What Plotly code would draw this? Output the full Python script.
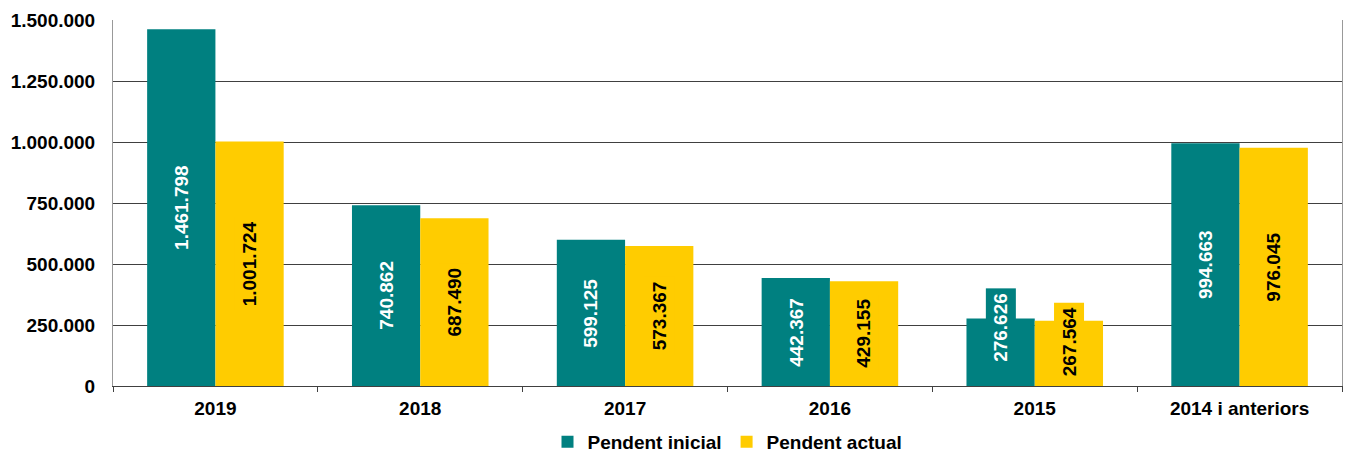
import plotly.graph_objects as go

categories = ["2019", "2018", "2017", "2016", "2015", "2014 i anteriors"]
pendent_inicial = [1461798, 740862, 599125, 442367, 276626, 994663]
pendent_actual = [1001724, 687490, 573367, 429155, 267564, 976045]
series_names = ["Pendent inicial", "Pendent actual"]
y_ticks = [0, 250000, 500000, 750000, 1000000, 1250000, 1500000]

TEAL = "#008080"
GOLD = "#FFCC00"
FONT = "Liberation Sans, Arial, sans-serif"
FS = 19


def fmt(v):
    return f"{v:,}".replace(",", ".")


fig = go.Figure()
fig.add_bar(x=categories, y=pendent_inicial, name=series_names[0],
            marker=dict(color=TEAL, line=dict(width=0)))
fig.add_bar(x=categories, y=pendent_actual, name=series_names[1],
            marker=dict(color=GOLD, line=dict(width=0)))

# label vertical nudges (px) for labels too tall for their bar
nudge = {("2015", 0): 25, ("2015", 1): 12}

for s, (vals, col, tcol) in enumerate([(pendent_inicial, TEAL, "white"),
                                       (pendent_actual, GOLD, "black")]):
    off = -1 / 6 if s == 0 else 1 / 6
    for i, (cat, v) in enumerate(zip(categories, vals)):
        fig.add_annotation(
            x=i + off, y=v / 2, xref="x", yref="y",
            text=fmt(v), textangle=-90, showarrow=False,
            yshift=nudge.get((cat, s), 0),
            bgcolor=col, borderpad=4,
            font=dict(family=FONT, size=FS, color=tcol, weight="bold"),
        )

fig.update_layout(
    width=1345, height=461,
    margin=dict(l=113, r=3, t=20, b=75, autoexpand=False),
    paper_bgcolor="white", plot_bgcolor="white",
    barmode="group", bargap=1 / 3, bargroupgap=0,
    separators=",.",
    font=dict(family=FONT, size=FS, color="black", weight="bold"),
    showlegend=True,
    legend=dict(orientation="h", x=0.5, xanchor="center", y=0, yanchor="top",
                yref="container",
                font=dict(family=FONT, size=FS, color="black", weight="bold"),
                itemwidth=30, traceorder="normal", borderwidth=0),
)
fig.update_layout(legend=dict(y=0.0, yanchor="bottom"))
fig.update_xaxes(
    type="category", showline=True, linecolor="#404040", linewidth=1,
    ticks="outside", tickson="boundaries", ticklen=5, tickcolor="#404040",
    showgrid=False, automargin=False, ticklabelstandoff=5,
    tickfont=dict(family=FONT, size=FS, color="black", weight="bold"),
)
fig.update_yaxes(
    range=[0, 1500000], tickvals=y_ticks, tickformat=",d",
    showgrid=True, gridcolor="#404040", gridwidth=1,
    showline=True, mirror=True, linecolor="#999999", linewidth=1,
    ticks="", ticklabelstandoff=13, zeroline=False, automargin=False,
    tickfont=dict(family=FONT, size=FS, color="black", weight="bold"),
)

fig.write_html("out.html", config={"displayModeBar": False},
               post_script="document.body.style.margin='0px';document.body.style.overflow='hidden';")
